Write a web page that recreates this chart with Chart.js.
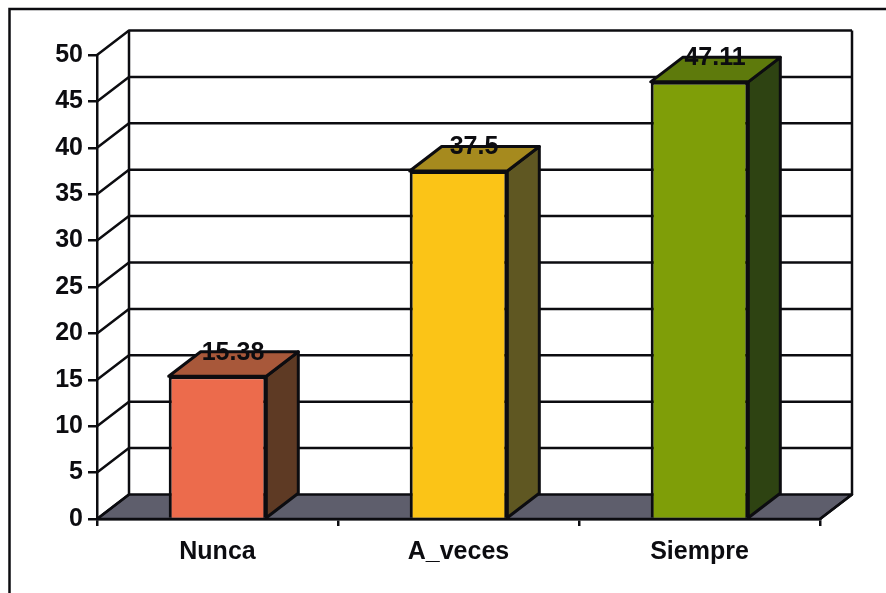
<!DOCTYPE html>
<html>
<head>
<meta charset="utf-8">
<style>
html,body{margin:0;padding:0;background:#fff;overflow:hidden}
canvas{display:block;filter:blur(0.6px)}
</style>
<script src="https://cdn.jsdelivr.net/npm/chart.js@4"></script>
</head>
<body>
<canvas id="c" width="886" height="593"></canvas>
<script>
const categories = ["Nunca", "A_veces", "Siempre"];
const values = [15.38, 37.5, 47.11];
const frontColors = ["#EC6B4C", "#FBC417", "#7F9E08"];
const topColors = ["#A8583A", "#A68A1E", "#5E7A0C"];
const sideColors = ["#5E3A24", "#5F5722", "#2E4312"];
const floorColor = "#5E5E6C";
const depthX = 32, depthY = 24.5;
const ink = "#0c0c10";
const labelFont = "bold 25px 'Liberation Sans', Arial, sans-serif";

function poly(ctx, pts, fill, lw) {
  ctx.beginPath();
  pts.forEach((p, i) => i ? ctx.lineTo(p[0], p[1]) : ctx.moveTo(p[0], p[1]));
  ctx.closePath();
  if (fill) { ctx.fillStyle = fill; ctx.fill(); }
  if (lw) { ctx.lineWidth = lw; ctx.lineJoin = "round"; ctx.strokeStyle = ink; ctx.stroke(); }
}

const scene = {
  id: "scene",
  beforeDraw(chart) {
    const ctx = chart.ctx;
    ctx.save();
    ctx.strokeStyle = ink;
    ctx.lineWidth = 2.5;
    ctx.beginPath();
    ctx.moveTo(9.5, 593); ctx.lineTo(9.5, 9); ctx.lineTo(886, 9);
    ctx.stroke();
    ctx.restore();
  },
  beforeDatasetsDraw(chart) {
    const ctx = chart.ctx, a = chart.chartArea, y = chart.scales.y;
    ctx.save();
    poly(ctx, [[a.left, a.bottom], [a.left + depthX, a.bottom - depthY],
               [a.right + depthX, a.bottom - depthY], [a.right, a.bottom]], floorColor, 2.5);
    ctx.strokeStyle = ink;
    ctx.lineWidth = 2.5;
    y.ticks.forEach(t => {
      const py = y.getPixelForValue(t.value);
      ctx.beginPath();
      ctx.moveTo(a.left, py);
      ctx.lineTo(a.left + depthX, py - depthY);
      if (t.value > 0) ctx.lineTo(a.right + depthX, py - depthY);
      ctx.stroke();
    });
    ctx.beginPath();
    ctx.moveTo(a.left + depthX, a.top - depthY);
    ctx.lineTo(a.left + depthX, a.bottom - depthY);
    ctx.moveTo(a.right + depthX, a.top - depthY);
    ctx.lineTo(a.right + depthX, a.bottom - depthY);
    ctx.lineTo(a.right, a.bottom);
    ctx.stroke();
    ctx.restore();
  },
  afterDatasetsDraw(chart) {
    const ctx = chart.ctx;
    ctx.save();
    chart.getDatasetMeta(0).data.forEach((bar, i) => {
      const l = bar.x - bar.width / 2, r = bar.x + bar.width / 2, t = bar.y, b = bar.base;
      poly(ctx, [[r, t], [r + depthX, t - depthY], [r + depthX, b - depthY], [r, b]], sideColors[i], 3);
      poly(ctx, [[l, t], [l + depthX, t - depthY], [r + depthX, t - depthY], [r, t]], topColors[i], 3);
    });
    ctx.fillStyle = ink;
    ctx.font = labelFont;
    ctx.textAlign = "center";
    ctx.textBaseline = "middle";
    chart.getDatasetMeta(0).data.forEach((bar, i) => {
      ctx.fillText(String(values[i]), bar.x + depthX / 2 - 0.5, bar.y - depthY + 1);
    });
    ctx.restore();
  }
};

new Chart(document.getElementById("c"), {
  type: "bar",
  data: {
    labels: categories,
    datasets: [{
      data: values,
      backgroundColor: frontColors,
      borderColor: ink,
      borderWidth: 3,
      barPercentage: 0.405,
      categoryPercentage: 1
    }]
  },
  plugins: [scene],
  options: {
    responsive: false,
    animation: false,
    devicePixelRatio: 1,
    layout: { padding: { top: 55, right: 66, left: 0, bottom: 0 } },
    plugins: { legend: { display: false }, tooltip: { enabled: false }, title: { display: false } },
    scales: {
      x: {
        afterFit(s) { s.height = 74; },
        grid: { display: true, drawOnChartArea: false, drawTicks: true, tickLength: 7, color: ink, lineWidth: 2.5 },
        border: { display: true, color: ink, width: 2.5 },
        ticks: { color: ink, font: { family: "'Liberation Sans', Arial, sans-serif", size: 25, weight: "bold" }, padding: 11, maxRotation: 0 }
      },
      y: {
        min: 0,
        max: 50,
        afterFit(s) { s.width = 97; },
        grid: { display: true, drawOnChartArea: false, drawTicks: true, tickLength: 9, color: ink, lineWidth: 2.5 },
        border: { display: true, color: ink, width: 2.5 },
        ticks: { stepSize: 5, color: ink, font: { family: "'Liberation Sans', Arial, sans-serif", size: 25, weight: "bold" }, padding: 5 }
      }
    }
  }
});
</script>
</body>
</html>
